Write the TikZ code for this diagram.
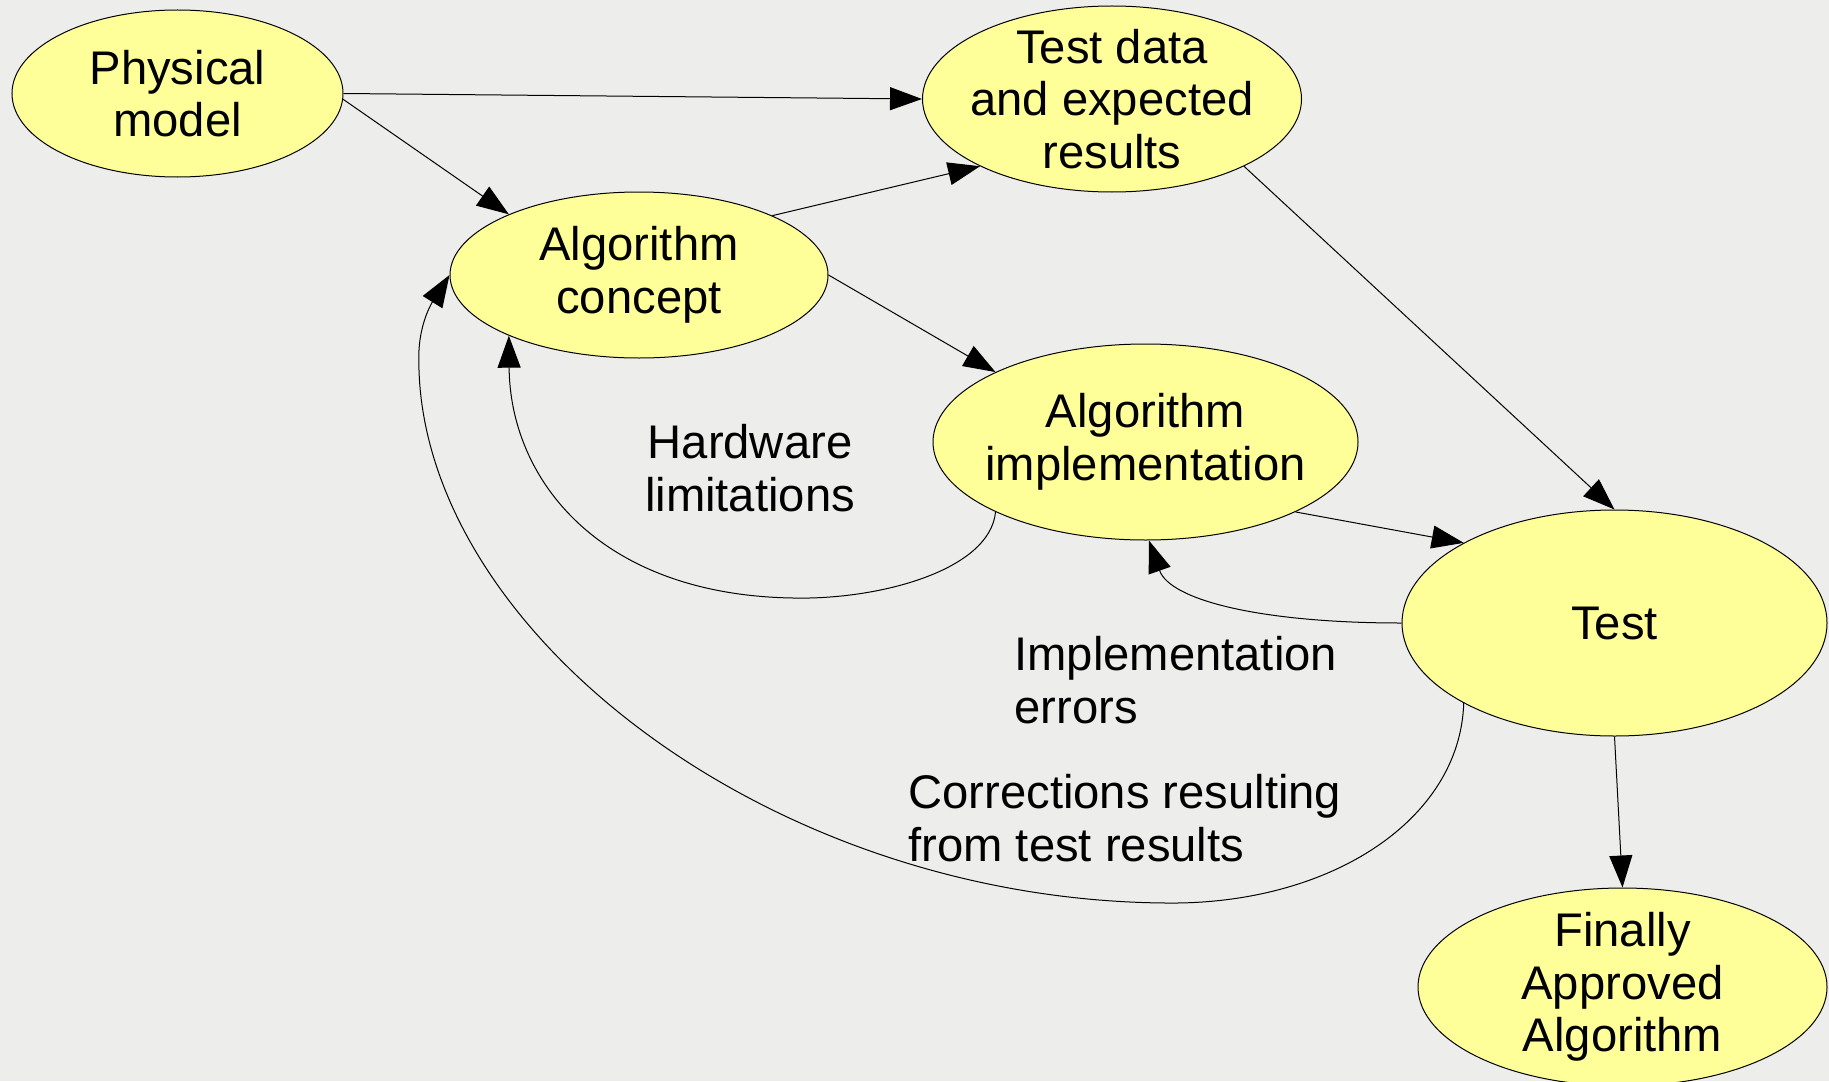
\documentclass[tikz,border=0pt]{standalone}
\usepackage{fontspec}
\setmainfont{Liberation Sans}
\usetikzlibrary{shapes.geometric,arrows.meta}
\definecolor{bgc}{RGB}{237,237,236}
\definecolor{ellfill}{RGB}{255,255,153}
\begin{document}
\begin{tikzpicture}[x=0.5pt,y=-0.5pt,
  ell/.style={ellipse,draw=black,line width=0.5pt,fill=ellfill,inner sep=0pt},
  etext/.style={font=\fontsize{23.6}{26.3}\selectfont,align=center,inner sep=0pt},
  lbl/.style={font=\fontsize{23.6}{26.3}\selectfont,inner sep=0pt},
  conn/.style={draw=black,line width=0.5pt,-{Triangle[length=16pt,width=11.5pt]}}]
\fill[bgc] (0,0) rectangle (1829,1081);
\useasboundingbox (0,0) rectangle (1829,1081);

\node[ell,minimum width=165.5pt,minimum height=83.5pt,label={[etext]center:{Physical\\model}}] (pm) at (177.5,93.5) {};
\node[ell,minimum width=189.5pt,minimum height=93pt,label={[etext]center:{Test data\\and expected\\results}}] (td) at (1112,99) {};
\node[ell,minimum width=189pt,minimum height=83pt,label={[etext]center:{Algorithm\\concept}}] (ac) at (639,275) {};
\node[ell,minimum width=212.5pt,minimum height=98pt,label={[etext]center:{Algorithm\\implementation}}] (ai) at (1145.5,442) {};
\node[ell,minimum width=212.5pt,minimum height=113pt,label={[etext]center:{Test}}] (test) at (1614.5,623) {};
\node[ell,minimum width=204.5pt,minimum height=99pt,label={[etext]center:{Finally\\Approved\\Algorithm}}] (fa) at (1622.5,987) {};

\draw[conn] (pm.east) -- (td.west);
\draw[conn] (pm.-2) -- (ac.155);
\draw[conn] (ac.24) -- (td.207);
\draw[conn] (ac.east) -- (ai.155);
\draw[conn] (td.-27) -- (test.north);
\draw[conn] (ai.-25) -- (test.152);
\draw[conn] (test.south) -- (fa.north);
\draw[conn] (test.west) .. controls (1260,623) and (1170,600) .. (ai.-88);
\draw[conn] (ai.205) .. controls (990,570) and (880,600) .. (793,598) .. controls (600,595) and (510,480) .. (ac.205);
\draw[conn] (test.208) .. controls (1460,820) and (1330,905) .. (1166,903) .. controls (760,900) and (410,620) .. (419,350) .. controls (421,315) and (437,295) .. (ac.west);

\node[lbl,align=center] (hw) at (750,468) {Hardware\\limitations};
\node[lbl,align=left,anchor=west] (ie) at (1014,680) {Implementation\\errors};
\node[lbl,align=left,anchor=west] (cr) at (908,818) {Corrections resulting\\from test results};
\end{tikzpicture}
\end{document}
